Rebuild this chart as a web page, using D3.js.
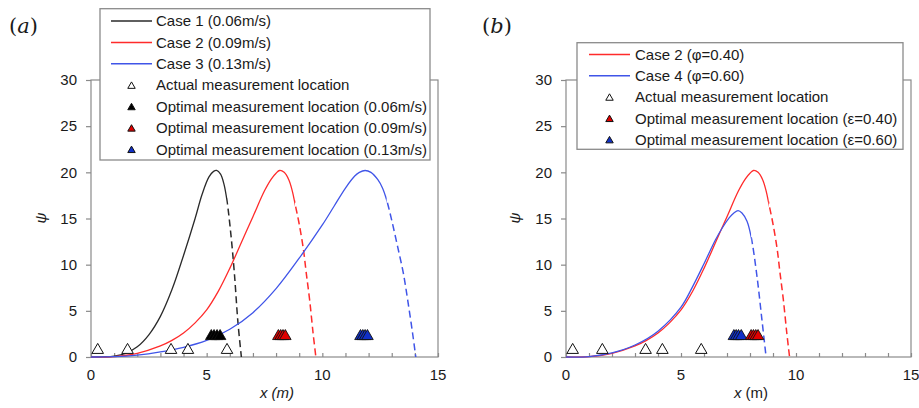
<!DOCTYPE html>
<html>
<head>
<meta charset="utf-8">
<script src="https://cdn.jsdelivr.net/npm/d3@7"></script>
<style>
  body { margin: 0; background: #fff; }
  svg text { fill: #1a1a1a; }
</style>
</head>
<body>
<svg id="chart" width="919" height="408"></svg>
<script>
// ---- data ----
// each case: full curve, solid up to *End, dashed after it
// case 1 (0.06 m/s)
var case1X = [0, 0.5, 1.0, 1.5, 2.0, 2.5, 3.0, 3.5, 4.0, 4.5, 4.8, 5.1, 5.3, 5.43, 5.6, 5.75, 5.88, 6.05, 6.2, 6.35, 6.5];
var case1Y = [0, 0.02, 0.1, 0.4, 1.1, 2.4, 4.4, 7.3, 11.0, 15.0, 17.6, 19.5, 20.1, 20.2, 19.8, 18.7, 16.9, 13.2, 9.0, 3.8, 0];
var case1End = 5.88;
// case 2 (0.09 m/s, phi=0.40)
var case2X = [0, 1, 2, 3, 3.5, 4, 4.5, 5, 5.5, 6, 6.5, 7, 7.5, 7.8, 8.0, 8.15, 8.35, 8.55, 8.7, 8.82, 9.0, 9.18, 9.3, 9.45, 9.6, 9.72];
var case2Y = [0, 0.05, 0.4, 1.2, 1.8, 2.6, 3.7, 5.1, 7.1, 9.6, 12.4, 15.2, 18.0, 19.3, 19.9, 20.2, 20.0, 19.2, 18.0, 16.6, 14.4, 11.7, 9.2, 6.2, 2.6, 0];
var case2End = 8.82;
// case 3 (0.13 m/s)
var case3X = [0, 1, 2, 3, 4, 5, 6, 7, 8, 9, 10, 10.5, 11, 11.4, 11.6, 11.85, 12.1, 12.4, 12.6, 12.78, 13.0, 13.25, 13.5, 13.7, 13.9, 14.04];
var case3Y = [0, 0.03, 0.2, 0.55, 1.05, 1.8, 3.0, 4.8, 7.4, 10.7, 14.3, 16.3, 18.3, 19.6, 20.0, 20.2, 20.0, 19.2, 18.3, 17.0, 14.8, 12.0, 9.1, 6.0, 2.6, 0];
var case3End = 12.78;
// case 4 (phi=0.60)
var case4X = [0, 1, 2, 3, 4, 5, 5.5, 6, 6.5, 6.8, 7.1, 7.3, 7.48, 7.65, 7.87, 8.05, 8.3, 8.52, 8.7];
var case4Y = [0, 0.05, 0.45, 1.3, 2.8, 5.4, 7.6, 10.1, 12.7, 14.0, 15.1, 15.6, 15.85, 15.6, 14.7, 13.0, 8.8, 4.0, 0];
var case4End = 8.05;

// measurement locations
var actualX = [0.29, 1.58, 3.46, 4.19, 5.88];
var actualY = 0.75;
var optY = 2.25;
var opt1X = [5.2, 5.32, 5.45, 5.58];
var opt2X = [8.1, 8.2, 8.3, 8.4];
var opt3X = [11.65, 11.75, 11.85, 11.95];
var opt4X = [7.3, 7.4, 7.5, 7.62];
var opt2bX = [8.05, 8.15, 8.25, 8.35];

var xTicks = [0, 5, 10, 15];
var yTicks = [0, 5, 10, 15, 20, 25, 30];

var legendA = ["Case 1 (0.06m/s)", "Case 2 (0.09m/s)", "Case 3 (0.13m/s)",
  "Actual measurement location", "Optimal measurement location (0.06m/s)",
  "Optimal measurement location (0.09m/s)", "Optimal measurement location (0.13m/s)"];
var legendB = ["Case 2 (\u03c6=0.40)", "Case 4 (\u03c6=0.60)", "Actual measurement location",
  "Optimal measurement location (\u03b5=0.40)", "Optimal measurement location (\u03b5=0.60)"];

var BLACK = "#2a2a2a", RED = "#ff2b2b", BLUE = "#4055e8";
var FRAME = "#8a8a8a";
var SANS = "Liberation Sans, Arial, sans-serif";

function zip(xs, ys) {
  return xs.map(function(x, i) { return [x, ys[i]]; });
}

var svg = d3.select("#chart");
var defs = svg.append("defs");
var clipN = 0;

function clip(x0, x1) {
  var id = "clip" + (clipN++);
  defs.append("clipPath").attr("id", id)
    .append("rect").attr("x", x0).attr("y", 0).attr("width", x1 - x0).attr("height", 408);
  return "url(#" + id + ")";
}

function panel(conf) {
  var g = svg.append("g").style("font-family", SANS);
  var x = d3.scaleLinear().domain([0, 15]).range([conf.x0, conf.x1]);
  var y = d3.scaleLinear().domain([0, 30]).range([357, 80]);

  // frame
  g.append("rect")
    .attr("x", x(0)).attr("y", y(30))
    .attr("width", x(15) - x(0)).attr("height", y(0) - y(30))
    .attr("fill", "none").attr("stroke", FRAME).attr("stroke-width", 1.2);

  // y axis, ticks out
  var ya = g.append("g").attr("transform", "translate(" + x(0) + ",0)")
    .call(d3.axisLeft(y).tickValues(yTicks).tickSize(5).tickPadding(9));
  ya.select(".domain").remove();
  ya.selectAll("line").attr("stroke", FRAME).attr("stroke-width", 1.2);
  ya.selectAll("text").style("font-size", "15px").style("font-family", SANS);

  // x axis: minor ticks inward every unit
  var xa = g.append("g").attr("transform", "translate(0," + y(0) + ")")
    .call(d3.axisBottom(x).tickValues(d3.range(0, 16)).tickSize(-4).tickFormat(""));
  xa.select(".domain").remove();
  xa.selectAll("line").attr("stroke", FRAME).attr("stroke-width", 1.2);
  g.selectAll("text.xt").data(xTicks).enter().append("text")
    .attr("class", "xt")
    .attr("x", function(d) { return x(d); }).attr("y", 380)
    .attr("text-anchor", "middle").style("font-size", "15px")
    .text(function(d) { return d; });

  // titles
  var xt = g.append("text").attr("x", conf.xTitleX).attr("y", 398)
    .attr("text-anchor", "middle").style("font-size", "15px");
  if (conf.italicAll) {
    xt.style("font-style", "italic").text("x (m)");
  } else {
    xt.append("tspan").style("font-style", "italic").text("x");
    xt.append("tspan").text(" (m)");
  }
  g.append("text")
    .attr("transform", "translate(" + conf.yTitleX + ",218) rotate(-90)")
    .attr("text-anchor", "middle").style("font-size", "15px")
    .style("font-style", "italic").text("\u03c8");

  var lab = g.append("text").attr("x", conf.labX).attr("y", 33)
    .style("font-family", "DejaVu Serif, serif").style("font-size", "21px");
  lab.append("tspan").text("(");
  lab.append("tspan").style("font-style", "italic").text(conf.label);
  lab.append("tspan").text(")");

  var line = d3.line()
    .x(function(d) { return x(d[0]); })
    .y(function(d) { return y(d[1]); })
    .curve(d3.curveCatmullRom.alpha(0.5));

  conf.curves.forEach(function(c) {
    var d = line(zip(c.xs, c.ys));
    g.append("path").attr("d", d)
      .attr("clip-path", clip(0, x(c.end)))
      .attr("fill", "none").attr("stroke", c.color).attr("stroke-width", 1.3);
    g.append("path").attr("d", d)
      .attr("clip-path", clip(x(c.end), 919))
      .attr("fill", "none").attr("stroke", c.color).attr("stroke-width", 1.5)
      .attr("stroke-dasharray", "7,4");
  });

  var tri = d3.symbol().type(d3.symbolTriangle).size(58);
  g.selectAll("path.act").data(actualX).enter().append("path")
    .attr("class", "act")
    .attr("d", tri)
    .attr("transform", function(d) { return "translate(" + x(d) + "," + y(actualY) + ")"; })
    .attr("fill", "#fff").attr("stroke", "#111").attr("stroke-width", 1);

  conf.opts.forEach(function(o) {
    g.selectAll(null).data(o.xs).enter().append("path")
      .attr("d", tri)
      .attr("transform", function(d) { return "translate(" + x(d) + "," + y(optY) + ")"; })
      .attr("fill", o.color).attr("stroke", "#111").attr("stroke-width", 0.9);
  });

  // legend
  var L = conf.legend;
  var lg = g.append("g");
  lg.append("rect")
    .attr("x", L.x).attr("y", L.y).attr("width", L.w).attr("height", L.h)
    .attr("fill", "#fff").attr("stroke", FRAME).attr("stroke-width", 1.3);
  var small = d3.symbol().type(d3.symbolTriangle).size(24);
  L.items.forEach(function(it, i) {
    var cy = L.row0 + i * L.step;
    if (it.line) {
      lg.append("line")
        .attr("x1", L.lx0).attr("x2", L.lx1).attr("y1", cy).attr("y2", cy)
        .attr("stroke", it.line).attr("stroke-width", 1.5);
    } else {
      lg.append("path").attr("d", small)
        .attr("transform", "translate(" + ((L.lx0 + L.lx1) / 2) + "," + (cy + 1) + ")")
        .attr("fill", it.fill).attr("stroke", "#111").attr("stroke-width", 1);
    }
    lg.append("text").attr("x", L.tx).attr("y", cy).attr("dy", "0.35em")
      .style("font-size", "15px").text(it.text);
  });
}

panel({
  x0: 91, x1: 438, label: "a", labX: 9, xTitleX: 277, yTitleX: 46, italicAll: true,
  curves: [
    {xs: case1X, ys: case1Y, end: case1End, color: BLACK},
    {xs: case2X, ys: case2Y, end: case2End, color: RED},
    {xs: case3X, ys: case3Y, end: case3End, color: BLUE}
  ],
  opts: [
    {xs: opt1X, color: "#000"},
    {xs: opt2X, color: "#e00000"},
    {xs: opt3X, color: "#1030c8"}
  ],
  legend: {
    x: 100, y: 8.7, w: 330, h: 151.3, row0: 21, step: 21.4, lx0: 111, lx1: 152, tx: 156,
    items: [
      {line: BLACK, text: legendA[0]},
      {line: RED, text: legendA[1]},
      {line: BLUE, text: legendA[2]},
      {fill: "#fff", text: legendA[3]},
      {fill: "#000", text: legendA[4]},
      {fill: "#e00000", text: legendA[5]},
      {fill: "#1030c8", text: legendA[6]}
    ]
  }
});

panel({
  x0: 566, x1: 911, label: "b", labX: 482, xTitleX: 751, yTitleX: 520, italicAll: false,
  curves: [
    {xs: case2X, ys: case2Y, end: case2End, color: RED},
    {xs: case4X, ys: case4Y, end: case4End, color: BLUE}
  ],
  opts: [
    {xs: opt4X, color: "#1030c8"},
    {xs: opt2bX, color: "#e00000"}
  ],
  legend: {
    x: 577, y: 42.7, w: 326, h: 106.6, row0: 54.5, step: 21.3, lx0: 589, lx1: 630, tx: 635,
    items: [
      {line: RED, text: legendB[0]},
      {line: BLUE, text: legendB[1]},
      {fill: "#fff", text: legendB[2]},
      {fill: "#e00000", text: legendB[3]},
      {fill: "#1030c8", text: legendB[4]}
    ]
  }
});
</script>
</body>
</html>
